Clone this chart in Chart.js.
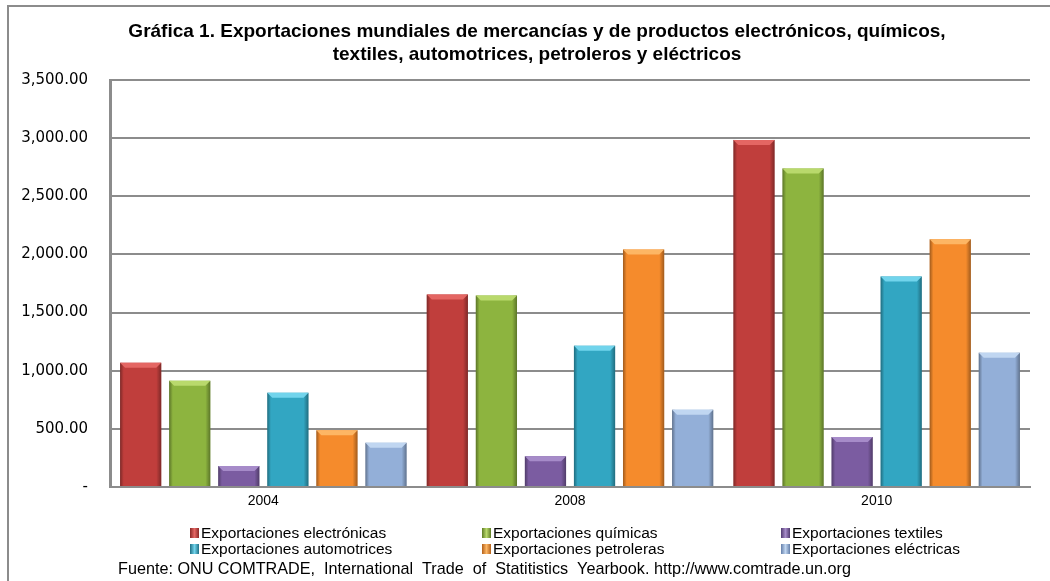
<!DOCTYPE html>
<html>
<head>
<meta charset="utf-8">
<script src="https://cdn.jsdelivr.net/npm/chart.js@4.4.1/dist/chart.umd.min.js"></script>
<style>
    html, body { margin: 0; padding: 0; background: #fff; }
    #frame {
        position: absolute; left: 7px; top: 5px; width: 1100px; height: 620px;
        border-left: 2px solid #8c8c8c; border-top: 2px solid #8c8c8c;
    }
    #wrap { position: absolute; left: 0; top: 0; width: 1050px; height: 581px; }
</style>
</head>
<body>
<div id="frame"></div>
<div id="wrap"><canvas id="myChart" width="1050" height="581"></canvas></div>
<script>
'use strict';

var years = ['2004', '2008', '2010'];
var electronicas = [1068, 1655, 2985];
var quimicas = [913, 1647, 2740];
var textiles = [180, 265, 430];
var automotrices = [810, 1215, 1810];
var petroleras = [487, 2043, 2130];
var electricas = [380, 665, 1155];
var yTicks = [0, 500, 1000, 1500, 2000, 2500, 3000, 3500];

var titleLines = ['Gráfica 1. Exportaciones mundiales de mercancías y de productos electrónicos, químicos,',
    'textiles, automotrices, petroleros y eléctricos'];
var sourceText = 'Fuente: ONU COMTRADE,  International  Trade  of  Statitistics  Yearbook. http://www.comtrade.un.org';
var seriesNames = ['Exportaciones electrónicas', 'Exportaciones químicas', 'Exportaciones textiles',
    'Exportaciones automotrices', 'Exportaciones petroleras', 'Exportaciones eléctricas'];
var seriesData = [electronicas, quimicas, textiles, automotrices, petroleras, electricas];
// base, light, dark
var palette = [
    ['#C03E3C', '#E46663', '#8A2927'],
    ['#8DB43F', '#B9D96C', '#5E7C26'],
    ['#7B5CA1', '#A68BC9', '#523B71'],
    ['#32A6C2', '#71D4EC', '#1E6F85'],
    ['#F58B2C', '#FDB664', '#B3601A'],
    ['#93AFD8', '#C0D6F1', '#6580AA']
];

var datasets = seriesData.map(function (d, i) {
    return {
        label: seriesNames[i],
        data: d,
        backgroundColor: palette[i][0],
        borderWidth: 0,
        categoryPercentage: 0.96,
        barPercentage: 0.84
    };
});

// bevel shading drawn over each bar, from the bar's own geometry
var bevel = {
    id: 'bevel',
    afterDatasetsDraw: function (chart) {
        var ctx = chart.ctx;
        chart.data.datasets.forEach(function (ds, i) {
            var meta = chart.getDatasetMeta(i);
            meta.data.forEach(function (bar) {
                var w = bar.width, left = bar.x - w / 2, top = bar.y, h = bar.base - bar.y, b = 5;
                ctx.save();
                var g = ctx.createLinearGradient(left, 0, left + w, 0);
                g.addColorStop(0, 'rgba(0,0,0,0.35)');
                g.addColorStop(0.09, 'rgba(0,0,0,0)');
                g.addColorStop(0.88, 'rgba(0,0,0,0)');
                g.addColorStop(1, 'rgba(0,0,0,0.35)');
                ctx.fillStyle = g;
                ctx.fillRect(left, top, w, h);
                ctx.fillStyle = palette[i][1];
                ctx.beginPath();
                ctx.moveTo(left, top);
                ctx.lineTo(left + w, top);
                ctx.lineTo(left + w - b, top + b);
                ctx.lineTo(left + b, top + b);
                ctx.closePath();
                ctx.fill();
                ctx.restore();
            });
        });
    }
};

// title, legend in three aligned columns, and source line
var texts = {
    id: 'texts',
    afterDraw: function (chart) {
        var ctx = chart.ctx;
        var cols = [190, 482, 781];
        var rows = [533, 549];
        ctx.save();
        ctx.fillStyle = '#000';
        ctx.textBaseline = 'middle';
        ctx.textAlign = 'center';
        ctx.font = 'bold 19px "Liberation Sans", Arial, sans-serif';
        ctx.fillText(titleLines[0], 537, 32);
        ctx.fillText(titleLines[1], 537, 55);

        ctx.textAlign = 'left';
        ctx.font = '15.5px "Liberation Sans", Arial, sans-serif';
        chart.data.datasets.forEach(function (ds, i) {
            var x = cols[i % 3], y = rows[Math.floor(i / 3)];
            var g = ctx.createLinearGradient(x, 0, x + 9, 0);
            g.addColorStop(0, palette[i][2]);
            g.addColorStop(0.5, palette[i][1]);
            g.addColorStop(1, palette[i][2]);
            ctx.fillStyle = g;
            ctx.fillRect(x, y - 5, 9, 10);
            ctx.fillStyle = '#000';
            ctx.fillText(ds.label, x + 11, y + 1);
        });
        ctx.font = '16.2px "Liberation Sans", Arial, sans-serif';
        ctx.fillText(sourceText, 118, 570);
        ctx.restore();
    }
};

var ctx = document.getElementById('myChart');

new Chart(ctx, {
    type: 'bar',
    data: {
        labels: years,
        datasets: datasets
    },
    plugins: [bevel, texts],
    options: {
        responsive: false,
        animation: false,
        layout: { padding: { left: 0, right: 20, top: 80, bottom: 64 } },
        plugins: {
            legend: { display: false },
            tooltip: { enabled: false },
            title: { display: false }
        },
        scales: {
            x: {
                grid: { display: false, drawTicks: false },
                border: { display: true, color: '#8c8c8c', width: 2 },
                ticks: {
                    color: '#000',
                    padding: 6,
                    font: { family: '"Liberation Sans", Arial, sans-serif', size: 14 }
                },
                afterFit: function (scale) { scale.height = 30; }
            },
            y: {
                min: 0,
                max: 3500,
                afterBuildTicks: function (scale) {
                    scale.ticks = yTicks.map(function (v) { return { value: v }; });
                },
                grid: { color: '#8c8c8c', lineWidth: 2, drawTicks: false },
                border: { display: true, color: '#8c8c8c', width: 3 },
                ticks: {
                    color: '#000',
                    padding: 22,
                    font: { family: '"DejaVu Sans", Verdana, sans-serif', size: 15 },
                    callback: function (v) {
                        if (v === 0) return '-';
                        return v.toLocaleString('en-US', { minimumFractionDigits: 2, maximumFractionDigits: 2 });
                    }
                },
                afterFit: function (scale) { scale.width = 110; }
            }
        }
    }
});
</script>
</body>
</html>
